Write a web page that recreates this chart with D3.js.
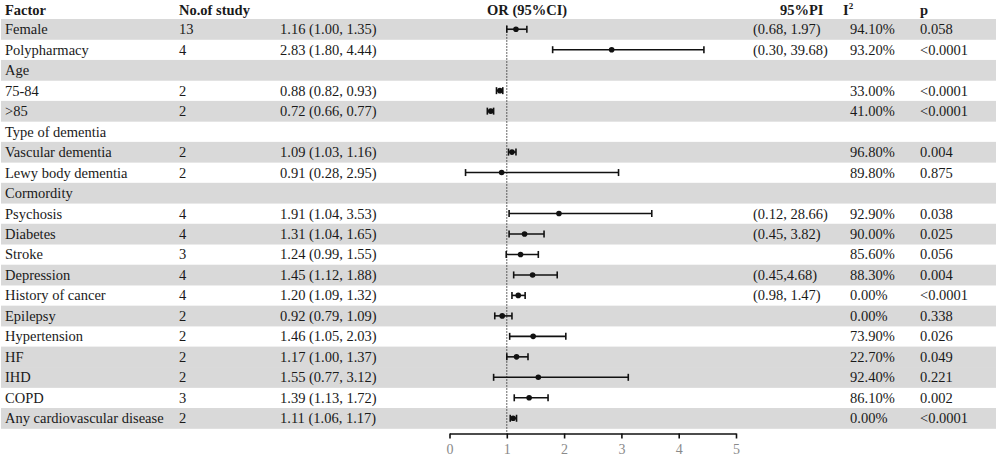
<!DOCTYPE html>
<html>
<head>
<meta charset="utf-8">
<title>Forest plot</title>
<script src="https://cdn.jsdelivr.net/npm/d3@7/dist/d3.min.js"></script>
<style>
  body { margin: 0; background: #fff; }
  svg { display: block; font-family: 'Liberation Serif', 'Times New Roman', serif; }
</style>
</head>
<body>
<div id="chart"></div>
<script>
// data
const factors = ['Female', 'Polypharmacy', 'Age', '75-84', '>85', 'Type of dementia', 'Vascular dementia',
  'Lewy body dementia', 'Cormordity', 'Psychosis', 'Diabetes', 'Stroke', 'Depression', 'History of cancer',
  'Epilepsy', 'Hypertension', 'HF', 'IHD', 'COPD', 'Any cardiovascular disease']
const nStudy = ['13', '4', '', '2', '2', '', '2', '2', '', '4', '4', '3', '4', '4', '2', '2', '2', '2', '3', '2']
const orVal = [1.16, 2.83, null, 0.88, 0.72, null, 1.09, 0.91, null, 1.91, 1.31, 1.24, 1.45, 1.20, 0.92, 1.46, 1.17, 1.55, 1.39, 1.11]
const ciLow = [1.00, 1.80, null, 0.82, 0.66, null, 1.03, 0.28, null, 1.04, 1.04, 0.99, 1.12, 1.09, 0.79, 1.05, 1.00, 0.77, 1.13, 1.06]
const ciHigh = [1.35, 4.44, null, 0.93, 0.77, null, 1.16, 2.95, null, 3.53, 1.65, 1.55, 1.88, 1.32, 1.09, 2.03, 1.37, 3.12, 1.72, 1.17]
const piText = ['(0.68, 1.97)', '(0.30, 39.68)', '', '', '', '', '', '', '', '(0.12, 28.66)', '(0.45, 3.82)', '',
  '(0.45,4.68)', '(0.98, 1.47)', '', '', '', '', '', '']
const i2Text = ['94.10%', '93.20%', '', '33.00%', '41.00%', '', '96.80%', '89.80%', '', '92.90%', '90.00%', '85.60%',
  '88.30%', '0.00%', '0.00%', '73.90%', '22.70%', '92.40%', '86.10%', '0.00%']
const pText = ['0.058', '<0.0001', '', '<0.0001', '<0.0001', '', '0.004', '0.875', '', '0.038', '0.025', '0.056',
  '0.004', '<0.0001', '0.338', '0.026', '0.049', '0.221', '0.002', '<0.0001']
const axisTicks = [0, 1, 2, 3, 4, 5]

// rows drawn with grey band
const greyRows = [0, 2, 4, 6, 8, 10, 12, 14, 16, 17, 19]

const fmt = d3.format('.2f')
const rows = factors.map((f, i) => ({
  i, factor: f, n: nStudy[i], or: orVal[i], lo: ciLow[i], hi: ciHigh[i],
  orText: orVal[i] == null ? '' : `${fmt(orVal[i])} (${fmt(ciLow[i])}, ${fmt(ciHigh[i])})`,
  pi: piText[i], i2: i2Text[i], p: pText[i],
}))

const width = 996
const height = 457
const fs = 14.5
const txt = '#1a1a1a'

const cols = { factor: 5, n: 179, or: 280, pi: 753, i2: 850, p: 920 }

const xScale = d3.scaleLinear().domain([0, 5]).range([449.5, 736])
const yScale = d3.scaleBand().domain(rows.map((d) => d.i)).range([19, 428.5])
const yc = (i) => yScale(i) + yScale.bandwidth() / 2

const svg = d3.select('#chart').append('svg').attr('width', width).attr('height', height)

// row bands
svg.append('g')
  .selectAll('rect')
  .data(rows.filter((d) => greyRows.includes(d.i)))
  .join('rect')
  .attr('x', 1)
  .attr('y', (d) => yScale(d.i))
  .attr('width', width - 1)
  .attr('height', yScale.bandwidth() + 0.3)
  .attr('fill', '#d9d9d9')

// header
const head = svg.append('g').attr('font-weight', 'bold').attr('font-size', fs).attr('fill', txt)
head.append('text').attr('x', cols.factor).attr('y', 14.5).text('Factor')
head.append('text').attr('x', cols.n).attr('y', 14.5).text('No.of study')
head.append('text').attr('x', 487).attr('y', 14.5).text('OR (95%CI)')
head.append('text').attr('x', 780).attr('y', 14.5).text('95%PI')
const i2h = head.append('text').attr('x', 843).attr('y', 14.5)
i2h.append('tspan').text('I')
i2h.append('tspan').attr('font-size', 9).attr('dy', -6).text('2')
head.append('text').attr('x', cols.p).attr('y', 14.5).text('p')

// table text
const body = svg.append('g').attr('font-size', fs).attr('fill', txt)
const colText = [['factor', cols.factor], ['n', cols.n], ['orText', cols.or], ['pi', cols.pi], ['i2', cols.i2], ['p', cols.p]]
colText.forEach(([key, x]) => {
  body.append('g')
    .selectAll('text')
    .data(rows)
    .join('text')
    .attr('x', x)
    .attr('y', (d) => yc(d.i) + 5)
    .text((d) => d[key])
})

// reference line at OR = 1
svg.append('line')
  .attr('x1', xScale(1)).attr('x2', xScale(1))
  .attr('y1', yc(0) - 4).attr('y2', 433.5)
  .attr('stroke', '#333')
  .attr('stroke-width', 1)
  .attr('stroke-dasharray', '1.5,1.5')

// CI whiskers and points
const est = rows.filter((d) => d.or != null)
const marks = svg.append('g').attr('stroke', '#111').attr('stroke-width', 1.6)
marks.selectAll('line.ci')
  .data(est)
  .join('line')
  .attr('class', 'ci')
  .attr('x1', (d) => xScale(d.lo)).attr('x2', (d) => xScale(d.hi))
  .attr('y1', (d) => yc(d.i)).attr('y2', (d) => yc(d.i))
marks.selectAll('line.capl')
  .data(est)
  .join('line')
  .attr('class', 'capl')
  .attr('x1', (d) => xScale(d.lo)).attr('x2', (d) => xScale(d.lo))
  .attr('y1', (d) => yc(d.i) - 3.5).attr('y2', (d) => yc(d.i) + 3.5)
marks.selectAll('line.caph')
  .data(est)
  .join('line')
  .attr('class', 'caph')
  .attr('x1', (d) => xScale(d.hi)).attr('x2', (d) => xScale(d.hi))
  .attr('y1', (d) => yc(d.i) - 3.5).attr('y2', (d) => yc(d.i) + 3.5)
svg.append('g')
  .selectAll('circle')
  .data(est)
  .join('circle')
  .attr('cx', (d) => xScale(d.or))
  .attr('cy', (d) => yc(d.i))
  .attr('r', 2.8)
  .attr('fill', '#111')

// x axis
const xAxis = d3.axisBottom(xScale)
  .tickValues(axisTicks)
  .tickFormat(d3.format('d'))
  .tickSize(5)
  .tickSizeOuter(0)
  .tickPadding(5.5)
const axisG = svg.append('g').attr('transform', 'translate(0, 433.5)').call(xAxis)
axisG.selectAll('path, line').attr('stroke', '#111').attr('stroke-width', 1.6)
axisG.attr('font-family', "'Liberation Serif', serif").attr('font-size', 14)
axisG.selectAll('text').attr('fill', '#8a8a8a')
</script>
</body>
</html>
